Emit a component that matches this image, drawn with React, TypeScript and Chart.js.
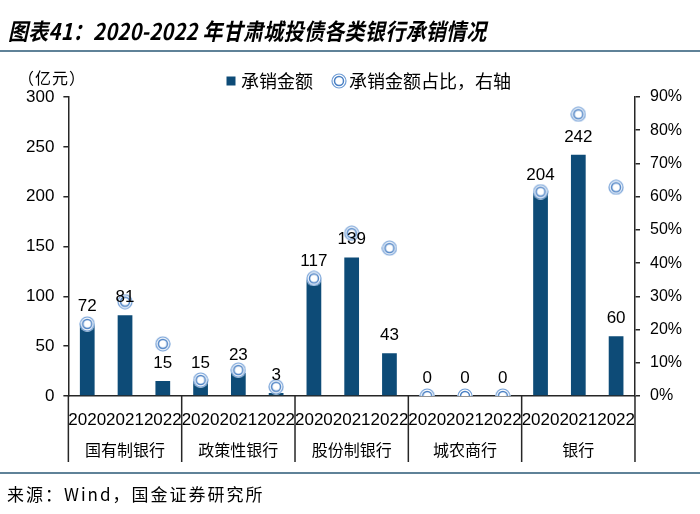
import React, { useEffect, useRef } from 'react';
import { Chart, registerables } from 'chart.js';
Chart.register(...registerables);

const years = ['2020', '2021', '2022', '2020', '2021', '2022', '2020', '2021', '2022', '2020', '2021', '2022', '2020', '2021', '2022'];
const groups = ['国有制银行', '政策性银行', '股份制银行', '城农商行', '银行'];
const amounts = [72, 81, 15, 15, 23, 3, 117, 139, 43, 0, 0, 0, 204, 242, 60];
const shares = [21.7, 28.4, 15.7, 4.8, 7.8, 2.8, 35.4, 49.0, 44.5, 0, 0, 0, 61.5, 84.8, 62.8];
const leftMax = 300;
const leftStep = 50;
const rightMax = 90;
const rightStep = 10;

const BAR = '#0d4b77';
const RING = '#4a80c4';
const AXIS = '#262626';
const SANS = '"Liberation Sans", Arial, sans-serif';
const CJK = '"Noto Sans CJK SC", sans-serif';

function makeRing(): HTMLCanvasElement {
  const c = document.createElement('canvas');
  c.width = 16;
  c.height = 16;
  const g = c.getContext('2d')!;
  g.fillStyle = '#ffffff';
  g.beginPath();
  g.arc(8, 8, 7.7, 0, Math.PI * 2);
  g.fill();
  g.strokeStyle = '#6f9dd6';
  g.lineWidth = 1.2;
  g.beginPath();
  g.arc(8, 8, 7.0, 0, Math.PI * 2);
  g.stroke();
  g.strokeStyle = RING;
  g.lineWidth = 1.5;
  g.beginPath();
  g.arc(8, 8, 4.5, 0, Math.PI * 2);
  g.stroke();
  return c;
}

const separatorPlugin = {
  id: 'groupSeparators',
  afterDraw(chart: any) {
    const x = chart.scales.x;
    const x2 = chart.scales.x2;
    const ctx = chart.ctx;
    const n = years.length;
    const per = n / groups.length;
    ctx.save();
    ctx.strokeStyle = AXIS;
    ctx.lineWidth = 1.5;
    for (let g = 0; g <= groups.length; g++) {
      const i = g * per;
      let px: number;
      if (i === 0) px = x.left;
      else if (i >= n) px = x.right;
      else px = (x.getPixelForValue(i - 1) + x.getPixelForValue(i)) / 2;
      ctx.beginPath();
      ctx.moveTo(px, x.top);
      ctx.lineTo(px, x2.bottom);
      ctx.stroke();
    }
    ctx.restore();
  },
};

const legendShiftPlugin = {
  id: 'legendShift',
  afterLayout(chart: any) {
    if (chart.legend) {
      chart.legend.left += 16;
      chart.legend.right += 16;
      chart.legend.top += 3;
      chart.legend.bottom += 3;
    }
  },
};

const valueLabelPlugin = {
  id: 'valueLabels',
  afterDatasetsDraw(chart: any) {
    const meta = chart.getDatasetMeta(0);
    const ctx = chart.ctx;
    ctx.save();
    ctx.font = `17px ${SANS}`;
    ctx.fillStyle = '#000';
    ctx.textAlign = 'center';
    ctx.textBaseline = 'alphabetic';
    meta.data.forEach((bar: any, i: number) => {
      ctx.fillText(String(amounts[i]), bar.x, bar.y - 13);
    });
    ctx.restore();
  },
};

export default function App() {
  const ref = useRef<HTMLCanvasElement>(null);
  useEffect(() => {
    if (!ref.current) return;
    const ring = makeRing();
    const chart = new Chart(ref.current, {
      type: 'bar',
      data: {
        labels: years,
        datasets: [
          {
            type: 'bar',
            label: '承销金额',
            data: amounts,
            backgroundColor: BAR,
            borderWidth: 0,
            barPercentage: 0.39,
            categoryPercentage: 1,
            yAxisID: 'y',
            xAxisID: 'x',
            order: 1,
            pointStyle: 'rect',
          } as any,
          {
            type: 'line',
            label: '承销金额占比，右轴',
            data: shares,
            showLine: false,
            pointStyle: ring,
            pointRadius: 8,
            borderColor: RING,
            backgroundColor: '#fff',
            yAxisID: 'y1',
            xAxisID: 'x',
            order: 0,
          } as any,
        ],
      },
      options: {
        animation: false,
        responsive: false,
        maintainAspectRatio: false,
        layout: { padding: { top: 44, left: 17, right: 8, bottom: 52 } },
        plugins: {
          tooltip: { enabled: false },
          legend: {
            display: true,
            position: 'top',
            labels: {
              usePointStyle: true,
              boxWidth: 2,
              boxHeight: 9,
              padding: 25,
              color: '#000',
              font: { family: CJK, size: 18 },
              sort: (a: any, b: any) => a.datasetIndex - b.datasetIndex,
            },
          },
        },
        scales: {
          x: {
            type: 'category',
            position: 'bottom',
            weight: 0,
            offset: true,
            grid: { display: false, drawTicks: false, tickLength: 0 },
            border: { display: true, color: AXIS, width: 1.5 },
            ticks: { color: '#000', font: { family: SANS, size: 17 }, padding: 14, maxRotation: 0, autoSkip: false },
            afterFit: (s: any) => {
              s.height = 40;
            },
          },
          x2: {
            type: 'category',
            position: 'bottom',
            weight: 1,
            labels: groups,
            offset: true,
            grid: { display: false, drawTicks: false, tickLength: 0 },
            border: { display: false },
            ticks: { color: '#000', font: { family: CJK, size: 16 }, padding: 4, maxRotation: 0, autoSkip: false },
            afterFit: (s: any) => {
              s.height = 26;
            },
          },
          y: {
            type: 'linear',
            position: 'left',
            min: 0,
            max: leftMax,
            grid: { display: true, drawOnChartArea: false, drawTicks: true, tickLength: 5, color: AXIS, lineWidth: 1.5 },
            border: { display: true, color: AXIS, width: 1.5 },
            ticks: { stepSize: leftStep, color: '#000', font: { family: SANS, size: 17 }, padding: 9 },
          },
          y1: {
            type: 'linear',
            position: 'right',
            min: 0,
            max: rightMax,
            grid: { display: true, drawOnChartArea: false, drawTicks: true, tickLength: 5, color: AXIS, lineWidth: 1.5 },
            border: { display: true, color: AXIS, width: 1.5 },
            ticks: {
              stepSize: rightStep,
              color: '#000',
              font: { family: SANS, size: 16 },
              padding: 10,
              callback: (v: any) => `${v}%`,
            },
          },
        },
      } as any,
      plugins: [separatorPlugin, valueLabelPlugin, legendShiftPlugin],
    });
    return () => chart.destroy();
  }, []);

  return (
    <div style={{ position: 'absolute', left: 0, top: 0, width: 700, height: 514, background: '#fff', overflow: 'hidden' }}>
      <canvas ref={ref} width={700} height={514} style={{ position: 'absolute', left: 0, top: 0, width: 700, height: 514 }} />
      <div
        style={{
          position: 'absolute',
          left: 8,
          top: 17,
          fontFamily: CJK,
          fontSize: 20,
          fontWeight: 700,
          fontStyle: 'italic',
          lineHeight: '24px',
          letterSpacing: '0.3px',
          color: '#000',
          whiteSpace: 'nowrap',
          transform: 'scaleY(1.15)',
          transformOrigin: 'left top',
        }}
      >
        图表41：2020-2022 年甘肃城投债各类银行承销情况
      </div>
      <div style={{ position: 'absolute', left: 0, top: 50, width: 700, height: 2, background: '#5f8298' }} />
      <div
        style={{
          position: 'absolute',
          left: 18,
          top: 67,
          fontFamily: CJK,
          fontSize: 16,
          lineHeight: '20px',
          letterSpacing: '1px',
          color: '#000',
          whiteSpace: 'nowrap',
        }}
      >
        （亿元）
      </div>
      <div style={{ position: 'absolute', left: 0, top: 472, width: 700, height: 2, background: '#5f8298' }} />
      <div
        style={{
          position: 'absolute',
          left: 7,
          top: 484,
          fontFamily: CJK,
          fontSize: 17,
          lineHeight: '20px',
          letterSpacing: '2px',
          color: '#000',
          whiteSpace: 'nowrap',
        }}
      >
        来源：Wind，国金证券研究所
      </div>
    </div>
  );
}
